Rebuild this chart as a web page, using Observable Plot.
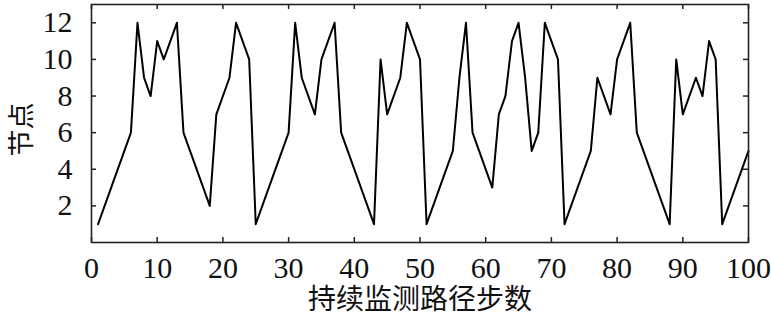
<!DOCTYPE html>
<html>
<head>
<meta charset="utf-8">
<script src="https://cdn.jsdelivr.net/npm/d3@7"></script>
<script src="https://cdn.jsdelivr.net/npm/@observablehq/plot@0.6"></script>
<style>
  html, body { margin: 0; padding: 0; background: #fff; }
  #chart svg { display: block; }
</style>
</head>
<body>
<div id="chart"></div>
<script>
const steps = [1,6,7,8,9,10,11,13,14,18,19,21,22,24,25,30,31,32,34,35,37,38,43,44,45,47,48,50,51,55,56,57,58,61,62,63,64,65,66,67,68,69,71,72,76,77,79,80,82,83,88,89,90,92,93,94,95,96,100];
const nodes = [1,6,12,9,8,11,10,12,6,2,7,9,12,10,1,6,12,9,7,10,12,6,1,10,7,9,12,10,1,5,9,12,6,3,7,8,11,12,9,5,6,12,10,1,5,9,7,10,12,6,1,10,7,9,8,11,10,1,5];
const xTicks = [0,10,20,30,40,50,60,70,80,90,100];
const yTicks = [2,4,6,8,10,12];
const xLabel = "持续监测路径步数";
const yLabel = "节点";

const data = steps.map((s, i) => ({step: s, node: nodes[i]}));

const W = 771, H = 317;
const mL = 91, mR = 23, mT = 4, mB = 75;
const fh = H - mT - mB, fw = W - mL - mR;
const tl = 5;
const serif = "'Liberation Serif', 'DejaVu Serif', serif";
const cjk = "'Noto Sans CJK SC', sans-serif";

const chart = Plot.plot({
  width: W,
  height: H,
  marginLeft: mL,
  marginRight: mR,
  marginTop: mT,
  marginBottom: mB,
  style: {background: "#fff", color: "#111"},
  x: {domain: [0, 100], ticks: xTicks},
  y: {domain: [0, 13], ticks: yTicks},
  marks: [
    Plot.axisX(xTicks, {tickSize: 0, tickPadding: 14, fontSize: 30, fontFamily: serif, fill: "#111", label: null}),
    Plot.axisY(yTicks, {tickSize: 0, tickPadding: 19, fontSize: 30, fontFamily: serif, fill: "#111", label: null}),
    Plot.tickX(xTicks, {x: d => d, insetTop: fh - tl, stroke: "#222", strokeWidth: 1.5}),
    Plot.tickX(xTicks, {x: d => d, insetBottom: fh - tl, stroke: "#222", strokeWidth: 1.5}),
    Plot.tickY(yTicks, {y: d => d, insetRight: fw - tl, stroke: "#222", strokeWidth: 1.5}),
    Plot.tickY(yTicks, {y: d => d, insetLeft: fw - tl, stroke: "#222", strokeWidth: 1.5}),
    Plot.line(data, {x: "step", y: "node", stroke: "#000", strokeWidth: 2}),
    Plot.frame({stroke: "#222", strokeWidth: 1.6}),
    Plot.text([xLabel], {text: d => d, frameAnchor: "bottom", dy: 58, textAnchor: "middle", lineAnchor: "middle", fontSize: 28, fontFamily: cjk, fill: "#111"}),
    Plot.text([yLabel], {text: d => d, frameAnchor: "left", dx: -69, dy: 6, rotate: -90, textAnchor: "middle", lineAnchor: "middle", fontSize: 27, fontFamily: cjk, fill: "#111"})
  ]
});
document.getElementById("chart").appendChild(chart);
</script>
</body>
</html>
